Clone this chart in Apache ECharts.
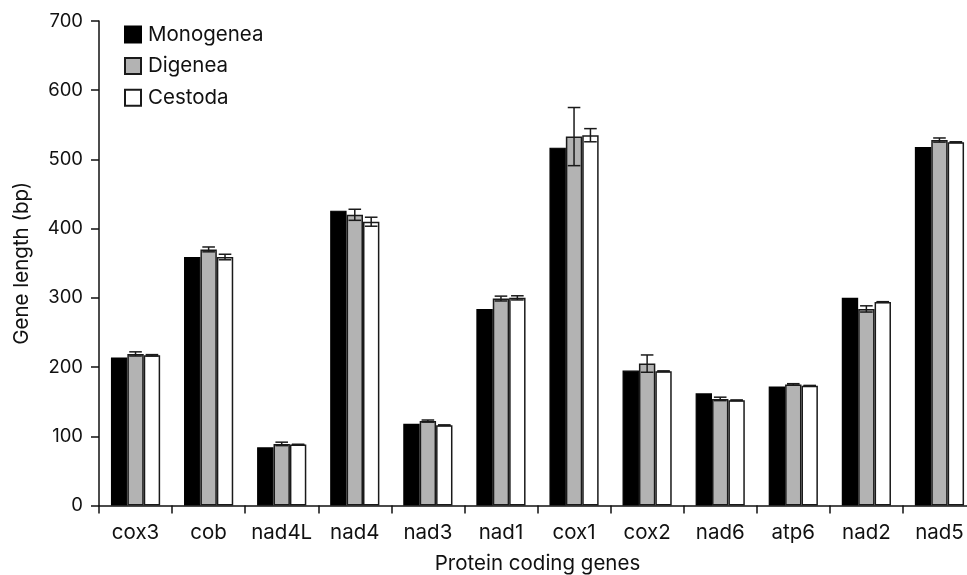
<!DOCTYPE html>
<html>
<head>
<meta charset="utf-8">
<script src="https://cdn.jsdelivr.net/npm/echarts@6/dist/echarts.min.js"></script>
<style>html,body{margin:0;padding:0;background:#fff}#c{width:967px;height:575px}</style>
</head>
<body>
<div id="c"></div>
<script>
var categories = ['cox3','cob','nad4L','nad4','nad3','nad1','cox1','cox2','nad6','atp6','nad2','nad5'];
var monogenea = [214, 359, 84, 426, 118, 284, 517, 195, 162, 172, 300, 518];
var digenea   = [219, 370, 89, 420, 122, 299, 533, 205, 154, 175, 284, 528];
var digeneaErr = [3, 3.5, 2.5, 8, 1.5, 3.5, 42, 12.5, 2.5, 1, 4.5, 3];
var cestoda   = [217, 359, 88, 410, 116, 300, 535, 194, 152, 173, 294, 525];
var cestodaErr = [1, 4, 0.5, 6.5, 0.5, 3, 9.5, 0.5, 0.5, 0.5, 0.5, 0.5];
var yTicks = [0, 100, 200, 300, 400, 500, 600, 700];

var BW = 16.4;
var FONT = 'Inter, Liberation Sans, Arial, sans-serif';

function errSeries(vals, errs, offset) {
  var data = vals.map(function (v, i) { return [i, v, errs[i]]; });
  return {
    type: 'custom',
    silent: true,
    z: 10,
    data: data,
    renderItem: function (params, api) {
      var i = api.value(0), v = api.value(1), e = api.value(2);
      var hi = api.coord([i, v + e]);
      var lo = api.coord([i, v - e]);
      var x = hi[0] + offset * BW;
      var hw = 6.3;
      var st = { stroke: '#1a1a1a', lineWidth: 1.5 };
      return {
        type: 'group',
        children: [
          { type: 'line', shape: { x1: x, y1: hi[1], x2: x, y2: lo[1] }, style: st },
          { type: 'line', shape: { x1: x - hw, y1: hi[1], x2: x + hw, y2: hi[1] }, style: st },
          { type: 'line', shape: { x1: x - hw, y1: lo[1], x2: x + hw, y2: lo[1] }, style: st }
        ]
      };
    }
  };
}

var chart = echarts.init(document.getElementById('c'));
chart.setOption({
  animation: false,
  backgroundColor: '#fff',
  textStyle: { fontFamily: FONT },
  grid: { left: 99, right: -9, top: 21, bottom: 69.5, containLabel: false, outerBoundsMode: 'none' },
  legend: {
    orient: 'vertical',
    left: 124,
    top: 24,
    padding: 0,
    itemWidth: 16,
    itemHeight: 16,
    itemGap: 10.6,
    icon: 'rect',
    textStyle: { fontSize: 20.5, color: '#111', fontFamily: FONT, padding: [0, 0, 0, 2] },
    data: ['Monogenea', 'Digenea', 'Cestoda']
  },
  xAxis: {
    type: 'category',
    data: categories,
    name: 'Protein coding genes',
    nameLocation: 'middle',
    nameGap: 48,
    nameTextStyle: { fontSize: 20.5, color: '#111', fontFamily: FONT },
    axisLine: { lineStyle: { color: '#111', width: 1.5 } },
    axisTick: { show: true, interval: 0, length: 8, lineStyle: { color: '#111', width: 1.5 } },
    axisLabel: { interval: 0, hideOverlap: false, fontSize: 20.5, color: '#111', margin: 17, fontFamily: FONT },
    splitLine: { show: false }
  },
  yAxis: {
    type: 'value',
    min: yTicks[0],
    max: yTicks[yTicks.length - 1],
    interval: 100,
    name: 'Gene length (bp)',
    nameLocation: 'middle',
    nameGap: 67,
    nameTextStyle: { fontSize: 20.5, color: '#111', fontFamily: FONT },
    axisLine: { show: true, lineStyle: { color: '#111', width: 1.5 } },
    axisTick: { show: true, length: 8, lineStyle: { color: '#111', width: 1.5 } },
    axisLabel: { fontSize: 18.5, color: '#111', margin: 16, fontFamily: FONT },
    splitLine: { show: false }
  },
  series: [
    { name: 'Monogenea', type: 'bar', data: monogenea, barWidth: BW, barGap: '0%',
      itemStyle: { color: '#000', borderColor: '#000', borderWidth: 1.2 } },
    { name: 'Digenea', type: 'bar', data: digenea, barWidth: BW, barGap: '0%',
      itemStyle: { color: '#b3b3b3', borderColor: '#1a1a1a', borderWidth: 1.5 } },
    { name: 'Cestoda', type: 'bar', data: cestoda, barWidth: BW, barGap: '0%',
      itemStyle: { color: '#fff', borderColor: '#1a1a1a', borderWidth: 1.5 } },
    errSeries(digenea, digeneaErr, 0),
    errSeries(cestoda, cestodaErr, 1)
  ]
});
</script>
</body>
</html>
